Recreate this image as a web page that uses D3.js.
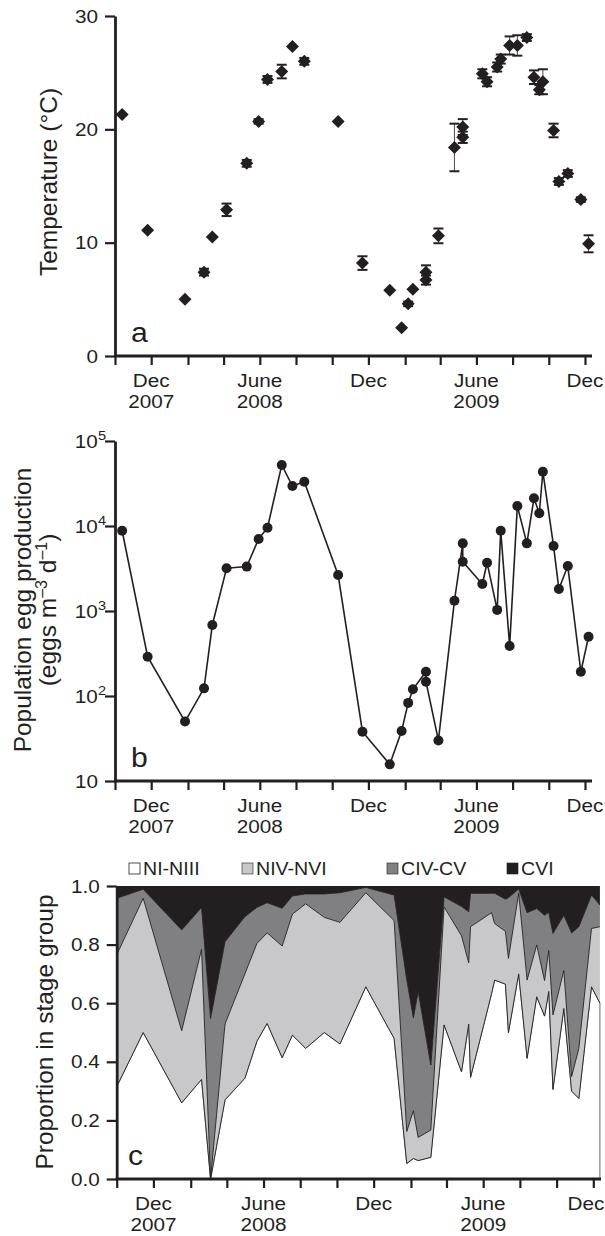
<!DOCTYPE html>
<html><head><meta charset="utf-8">
<script src="https://cdn.jsdelivr.net/npm/d3@7"></script>
<style>
body{margin:0;background:#fff}
svg{display:block}
text{font-family:"Liberation Sans",Arial,Helvetica,sans-serif;fill:#231f20}
</style>
</head><body>
<svg id="chart" width="605" height="1236"></svg>
<script>
// ---------- DATA ----------
const sampleDates = ["2007-10-13","2007-11-25","2008-01-27","2008-02-28","2008-03-13","2008-04-06","2008-05-10","2008-05-30","2008-06-14","2008-07-08","2008-07-26","2008-08-15","2008-10-11","2008-11-21","2009-01-06","2009-01-26","2009-02-06","2009-02-14","2009-03-08","2009-03-08","2009-03-29","2009-04-25","2009-05-09","2009-05-09","2009-06-11","2009-06-19","2009-07-06","2009-07-12","2009-07-27","2009-08-09","2009-08-25","2009-09-06","2009-09-15","2009-09-21","2009-10-09","2009-10-18","2009-11-02","2009-11-24","2009-12-07"];
const temperature = [21.3,11.1,5.0,7.4,10.5,12.9,17.0,20.7,24.4,25.1,27.3,26.0,20.7,8.2,5.8,2.5,4.6,5.9,7.4,6.7,10.6,18.4,20.2,19.3,24.9,24.2,25.5,26.2,27.4,27.4,28.1,24.6,23.5,24.2,19.9,15.4,16.1,13.8,9.9];
const temperatureSD = [0,0,0,0.3,0,0.55,0.3,0.2,0.3,0.6,0,0.3,0,0.6,0,0,0.2,0,0.6,0.4,0.65,2.1,0.7,0.5,0.4,0.4,0.4,0.4,0.8,0.9,0.3,0.6,0.4,1.1,0.6,0.3,0.3,0.2,0.75];
const eggProduction = [8800,290,50,123,684,3180,3330,7030,9550,52200,29500,33200,2650,38,15.7,38.7,83,120,193,147,30,1320,6250,3800,2080,3700,1030,8800,387,17200,6250,21200,14100,43500,5820,1815,3380,193,499];

const stageDates = ["2007-10-01","2007-11-14","2008-01-17","2008-02-19","2008-03-05","2008-03-29","2008-05-01","2008-05-21","2008-06-07","2008-07-02","2008-07-19","2008-08-10","2008-09-10","2008-10-06","2008-11-18","2009-01-04","2009-01-25","2009-02-05","2009-02-13","2009-03-06","2009-03-28","2009-04-26","2009-05-08","2009-05-11","2009-06-15","2009-06-20","2009-07-08","2009-07-13","2009-07-30","2009-08-13","2009-08-29","2009-09-11","2009-09-18","2009-09-25","2009-10-13","2009-10-26","2009-11-07","2009-11-28","2009-12-12"];
const stageNI_NIII = [0.315,0.50,0.26,0.34,0,0.27,0.344,0.47,0.531,0.414,0.491,0.446,0.50,0.461,0.656,0.48,0.053,0.07,0.063,0.074,0.526,0.366,0.529,0.347,0.633,0.679,0.665,0.50,0.70,0.412,0.622,0.556,0.64,0.306,0.582,0.30,0.275,0.656,0.60];
const stageNIV_NVI = [0.45,0.458,0.246,0.444,0,0.259,0.356,0.334,0.309,0.381,0.413,0.493,0.393,0.415,0.321,0.402,0.109,0.163,0.079,0.093,0.403,0.464,0.209,0.514,0.276,0.193,0.18,0.253,0.275,0.267,0.177,0.121,0.14,0.254,0.129,0.05,0.171,0.199,0.261];
const stageCIV_CV = [0.193,0.031,0.344,0.143,0.548,0.281,0.195,0.123,0.103,0.129,0.062,0.034,0.08,0.101,0.018,0.087,0.518,0.317,0.498,0.222,0.034,0.10,0.174,0.114,0.066,0.103,0.11,0.207,0.015,0.23,0.124,0.223,0.13,0.278,0.189,0.49,0.415,0.114,0.074];
const stageCVI = [0.042,0.011,0.15,0.073,0.452,0.19,0.105,0.073,0.057,0.076,0.034,0.027,0.027,0.023,0.005,0.031,0.32,0.45,0.36,0.611,0.037,0.07,0.088,0.025,0.025,0.025,0.045,0.04,0.01,0.091,0.077,0.10,0.09,0.162,0.10,0.16,0.139,0.031,0.065];
const stageGroups = ["NI-NIII","NIV-NVI","CIV-CV","CVI"];
const stageColors = ["#ffffff","#c8c8ca","#808083","#231f20"];

const xDomain = ["2007-10-01","2009-12-01"];
const tickDates = ["2007-10-01","2007-12-01","2008-02-01","2008-04-01","2008-06-01","2008-08-01","2008-10-01","2008-12-01","2009-02-01","2009-04-01","2009-06-01","2009-08-01","2009-10-01","2009-12-01"];
const labelDates = ["2007-12-01","2008-06-01","2008-12-01","2009-06-01","2009-12-01"];
const labelMonths = ["Dec","June","Dec","June","Dec"];
const labelYears = ["2007","2008","","2009",""];
const tempTicks = [0,10,20,30];
const eggTicks = [10,100,1000,10000,100000];
const eggTickExp = ["","2","3","4","5"];
const propTicks = [0,0.2,0.4,0.6,0.8,1.0];

// ---------- DRAW ----------
const INK = "#231f20";
const SX = 1.12;   // horizontal widening of the printed labels
const TITLE = 24.5;
const parse = d3.timeParse("%Y-%m-%d");
const svg = d3.select("#chart");

function hText(g, x, y, str, size, anchor) {
  return g.append("text").attr("transform", `translate(${x},${y}) scale(${SX},1)`)
    .attr("text-anchor", anchor).attr("font-size", size).text(str);
}

function bottomAxis(x, y0, xEnd) {
  const g = svg.append("g");
  const ax = d3.axisBottom(x).tickValues(tickDates.map(parse)).tickSize(9).tickFormat("");
  const ag = g.append("g").attr("transform", `translate(0,${y0})`).call(ax);
  ag.select(".domain").remove();
  ag.selectAll(".tick line").attr("stroke", INK).attr("stroke-width", 2.2);
  g.append("line").attr("x1", x.range()[0] - 1).attr("x2", xEnd).attr("y1", y0).attr("y2", y0)
    .attr("stroke", INK).attr("stroke-width", 2.8);
  labelDates.forEach((d, i) => {
    const px = Math.min(x(parse(d)), 586);
    hText(g, px, y0 + 31, labelMonths[i], 18.5, "middle");
    if (labelYears[i]) hText(g, px, y0 + 52, labelYears[i], 18.5, "middle");
  });
}
function leftAxis(y, x0, ticks, fmt) {
  const g = svg.append("g").attr("transform", `translate(${x0},0)`);
  const ax = d3.axisLeft(y).tickValues(ticks).tickSize(10).tickSizeOuter(0).tickFormat("");
  g.call(ax);
  g.select(".domain").attr("stroke", INK).attr("stroke-width", 2.8);
  g.selectAll(".tick line").attr("stroke", INK).attr("stroke-width", 2.2);
  if (fmt) ticks.forEach(t => hText(g, -17, y(t) + 6.5, fmt(t), 18.5, "end"));
  return g;
}

// Panel a
const xa = d3.scaleTime().domain(xDomain.map(parse)).range([115, 585]);
const ya = d3.scaleLinear().domain([0, 30]).range([356, 16]);
leftAxis(ya, 115, tempTicks, d => d);
bottomAxis(xa, 356, 592);
svg.append("text").attr("transform", "translate(57,182) rotate(-90)").attr("text-anchor", "middle")
  .attr("font-size", TITLE).text("Temperature (°C)");
hText(svg, 131, 342, "a", 27, "start");
const ga = svg.append("g");
sampleDates.forEach((d, i) => {
  const sd = temperatureSD[i];
  if (sd > 0) {
    const cx = xa(parse(d)), t = ya(temperature[i] + sd), b = ya(temperature[i] - sd);
    ga.append("line").attr("x1", cx).attr("x2", cx).attr("y1", t).attr("y2", b).attr("stroke", INK).attr("stroke-width", 0.8);
    [t, b].forEach(yy => ga.append("line").attr("x1", cx - 5).attr("x2", cx + 5).attr("y1", yy).attr("y2", yy)
      .attr("stroke", INK).attr("stroke-width", 2));
  }
});
const diamond = "M0,-6.5L6.5,0L0,6.5L-6.5,0Z";
ga.selectAll("path.pt").data(sampleDates).join("path").attr("class", "pt")
  .attr("d", diamond).attr("fill", INK)
  .attr("transform", (d, i) => `translate(${xa(parse(d))},${ya(temperature[i])})`);

// Panel b
const xb = d3.scaleTime().domain(xDomain.map(parse)).range([115, 585]);
const yb = d3.scaleLog().domain([10, 100000]).range([781, 441]);
const gbAx = leftAxis(yb, 115, eggTicks, null);
eggTicks.forEach((t, i) => {
  if (eggTickExp[i]) {
    const tx = hText(gbAx, -9, yb(t) + 6.5, "", 18.5, "end");
    tx.append("tspan").text("10");
    tx.append("tspan").attr("font-size", 13).attr("dy", -8).text(eggTickExp[i]);
  } else {
    hText(gbAx, -17, yb(t) + 6.5, "10", 18.5, "end");
  }
});
bottomAxis(xb, 781, 592);
const tb = svg.append("text").attr("transform", "translate(0,610) rotate(-90)").attr("text-anchor", "middle").attr("font-size", TITLE);
tb.append("tspan").attr("x", 0).attr("y", 31).text("Population egg production");
const l2 = tb.append("tspan").attr("x", 0).attr("y", 56);
l2.append("tspan").text("(eggs m");
l2.append("tspan").attr("font-size", 16).attr("dy", -9).text("–3");
l2.append("tspan").attr("dy", 9).text(" d");
l2.append("tspan").attr("font-size", 16).attr("dy", -9).text("–1");
l2.append("tspan").attr("dy", 9).text(")");
hText(svg, 131, 767, "b", 27, "start");
const eggLine = d3.line().x((d, i) => xb(parse(d))).y((d, i) => yb(eggProduction[i]));
svg.append("path").attr("d", eggLine(sampleDates)).attr("fill", "none").attr("stroke", INK).attr("stroke-width", 1.6);
svg.append("g").selectAll("circle").data(sampleDates).join("circle")
  .attr("cx", d => xb(parse(d))).attr("cy", (d, i) => yb(eggProduction[i])).attr("r", 5).attr("fill", INK);

// Panel c
const xc = d3.scaleTime().domain(xDomain.map(parse)).range([116.7, 593.3]);
const yc = d3.scaleLinear().domain([0, 1]).range([1179, 886]);
const rows = stageDates.map((d, i) => ({
  date: parse(d), "NI-NIII": stageNI_NIII[i], "NIV-NVI": stageNIV_NVI[i], "CIV-CV": stageCIV_CV[i], "CVI": stageCVI[i]
}));
const series = d3.stack().keys(stageGroups)(rows);
const area = d3.area().x(d => xc(d.data.date)).y0(d => yc(d[0])).y1(d => yc(Math.min(1, d[1])));
const topLine = d3.line().x(d => xc(d.data.date)).y(d => yc(d[1]));
const gc = svg.append("g");
series.forEach((s, i) => {
  gc.append("path").attr("d", area(s)).attr("fill", stageColors[i])
    .attr("stroke", i === 0 ? "#555" : "none").attr("stroke-width", 0.9);
});
series.slice(0, 3).forEach(s => {
  gc.append("path").attr("d", topLine(s)).attr("fill", "none").attr("stroke", INK).attr("stroke-width", 0.9);
});
leftAxis(yc, 116.7, propTicks, d => d.toFixed(1));
bottomAxis(xc, 1179, 601);
svg.append("text").attr("transform", "translate(53,1032) rotate(-90)").attr("text-anchor", "middle")
  .attr("font-size", TITLE).text("Proportion in stage group");
svg.append("rect").attr("x", 124).attr("y", 1140).attr("width", 30).attr("height", 32).attr("fill", "#fff");
hText(svg, 128, 1165, "c", 27, "start");

// Legend
const legendX = [129, 242, 387, 507];
stageGroups.forEach((k, i) => {
  svg.append("rect").attr("x", legendX[i]).attr("y", 863).attr("width", 11).attr("height", 11)
    .attr("fill", stageColors[i]).attr("stroke", INK).attr("stroke-width", i === 0 ? 0.8 : 0.6);
  hText(svg, legendX[i] + 14, 875, k, 17.5, "start");
});
</script>
</body></html>
